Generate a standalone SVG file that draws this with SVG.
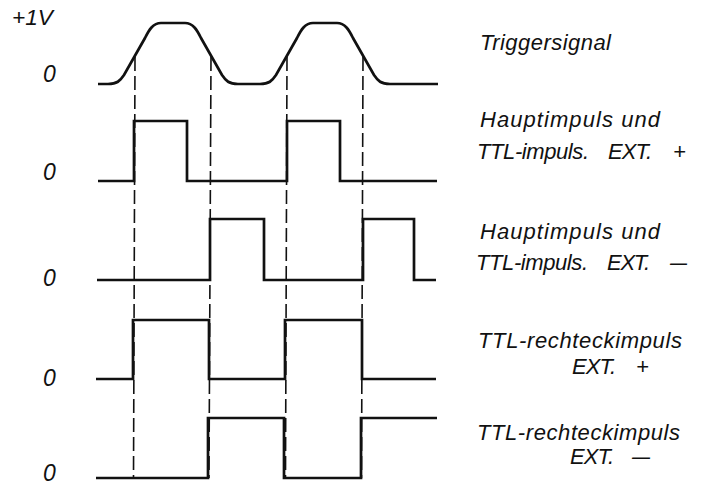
<svg xmlns="http://www.w3.org/2000/svg" width="707" height="486" viewBox="0 0 707 486">
<style>
.w{fill:none;stroke:#111;stroke-width:2.7;stroke-linejoin:miter;stroke-linecap:butt}
.d{fill:none;stroke:#111;stroke-width:1.6;stroke-dasharray:14 5}
.t{font-family:"Liberation Sans",Arial,sans-serif;font-style:italic;font-size:22px;fill:#111}
.z{font-family:"Liberation Sans",Arial,sans-serif;font-style:italic;font-size:23px;fill:#111}
</style>
<rect width="707" height="486" fill="#fff"/>
<g id="connectors">
<line class="d" x1="135" y1="57" x2="133.5" y2="478"/>
<line class="d" x1="211" y1="57" x2="209" y2="478"/>
<line class="d" x1="287" y1="57" x2="285.5" y2="478"/>
<line class="d" x1="363" y1="57" x2="361.5" y2="478"/>
</g>
<g id="trigger">
<path class="w" d="M98,84 H108 C117,84 120,81 124,75 L145,38 C149,30 153,23 161,23 H185 C193,23 197,30 201,38 L222,75 C226,81 229,84 238,84 H260 C269,84 272,81 276,75 L297,38 C301,30 305,23 313,23 H337 C345,23 349,30 353,38 L374,75 C378,81 381,84 390,84 H438"/>
</g>
<g id="haupt-plus">
<path class="w" d="M98,181 H134 V121 H187 V181 H287 V121 H340 V181 H437"/>
</g>
<g id="haupt-minus">
<path class="w" d="M97,280 H210 V219 H264 V280 H363 V219 H414 V280 H436"/>
</g>
<g id="ttl-plus">
<path class="w" d="M96,379 H133 V320 H209 V379 H285 V320 H362 V379 H436"/>
</g>
<g id="ttl-minus">
<path class="w" d="M96,478 H208 V418 H284 V478 H361 V418 H437"/>
</g>
<g id="axis-labels">
<text class="t" x="12" y="25" font-size="20" textLength="41" lengthAdjust="spacingAndGlyphs">+1V</text>
<text class="z" x="43" y="82">0</text>
<text class="z" x="43" y="180">0</text>
<text class="z" x="43" y="286">0</text>
<text class="z" x="43" y="386">0</text>
<text class="z" x="43" y="481">0</text>
</g>
<g id="label-trigger">
<text class="t" x="480" y="50" textLength="131">Triggersignal</text>
</g>
<g id="label-haupt-plus">
<text class="t" x="480" y="127" textLength="180">Hauptimpuls und</text>
<text class="t" x="477" y="159" textLength="112">TTL-impuls.</text>
<text class="t" x="608" y="159" textLength="44">EXT.</text>
<text class="t" x="673" y="159">+</text>
</g>
<g id="label-haupt-minus">
<text class="t" x="480" y="239" textLength="180">Hauptimpuls und</text>
<text class="t" x="476" y="270" textLength="112">TTL-impuls.</text>
<text class="t" x="607" y="270" textLength="43">EXT.</text>
<text class="t" x="670" y="270" textLength="17" lengthAdjust="spacingAndGlyphs">—</text>
</g>
<g id="label-ttl-plus">
<text class="t" x="478" y="348" textLength="204">TTL-rechteckimpuls</text>
<text class="t" x="572" y="374" textLength="44">EXT.</text>
<text class="t" x="636" y="374">+</text>
</g>
<g id="label-ttl-minus">
<text class="t" x="477" y="440" textLength="203">TTL-rechteckimpuls</text>
<text class="t" x="570" y="464" textLength="44">EXT.</text>
<text class="t" x="632" y="464" textLength="18" lengthAdjust="spacingAndGlyphs">—</text>
</g>
</svg>
